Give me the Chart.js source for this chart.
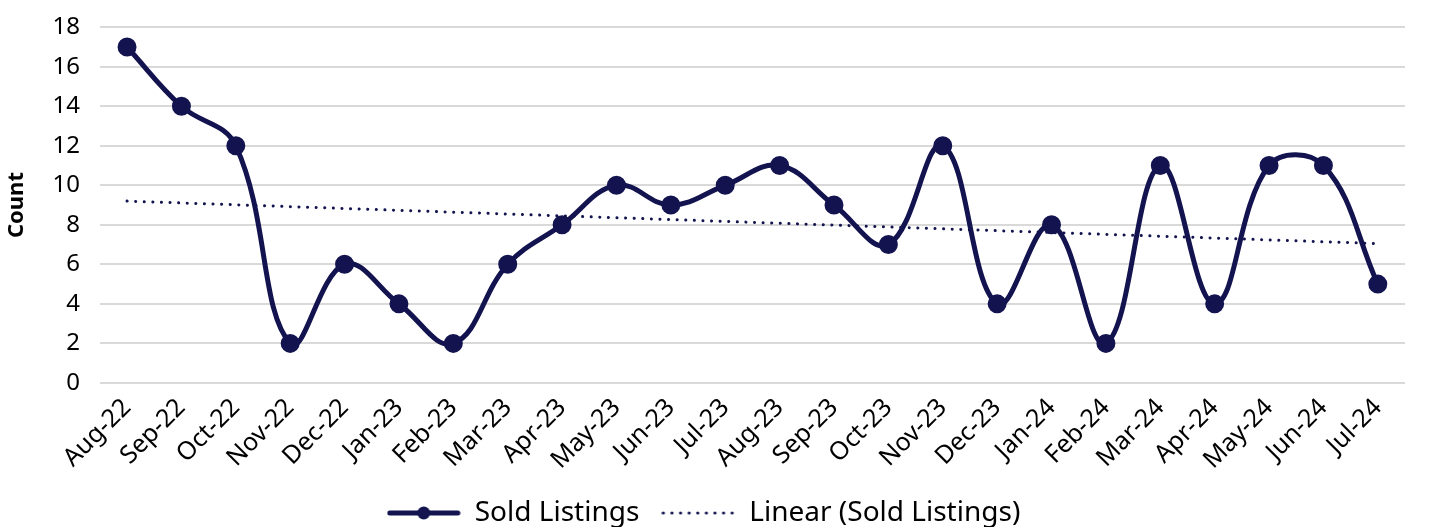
<!DOCTYPE html>
<html>
<head>
<meta charset="utf-8">
<script src="https://cdn.jsdelivr.net/npm/chart.js@4"></script>
<style>
  html, body { margin: 0; padding: 0; background: #fff; overflow: hidden; }
  #wrap { width: 1432px; height: 537px; }
</style>
</head>
<body>
<div id="wrap"><canvas id="chart"></canvas></div>
<script>
// 月ラベルと値
const months = ["Aug-22","Sep-22","Oct-22","Nov-22","Dec-22","Jan-23","Feb-23","Mar-23","Apr-23","May-23","Jun-23","Jul-23",
  "Aug-23","Sep-23","Oct-23","Nov-23","Dec-23","Jan-24","Feb-24","Mar-24","Apr-24","May-24","Jun-24","Jul-24"];
const soldListings = [17,14,12,2,6,4,2,6,8,10,9,10,11,9,7,12,4,8,2,11,4,11,11,5];
// トレンドライン両端
const trendStart = 9.2;
const trendEnd = 7.05;

const navy = "#13134f";
const fontFamily = "'Noto Sans', sans-serif";

// 凡例アイコン
function legendIcon(dotted) {
  const c = document.createElement("canvas");
  c.width = 74; c.height = 16;
  const ctx = c.getContext("2d");
  ctx.strokeStyle = navy;
  ctx.fillStyle = navy;
  if (dotted) {
    for (let x = 2; x < 72; x += 8.6) {
      ctx.beginPath();
      ctx.arc(x, 8, 1.6, 0, Math.PI * 2);
      ctx.fill();
    }
  } else {
    ctx.lineWidth = 5;
    ctx.lineCap = "round";
    ctx.beginPath();
    ctx.moveTo(3, 8); ctx.lineTo(71, 8);
    ctx.stroke();
    ctx.beginPath();
    ctx.arc(37, 8, 6.5, 0, Math.PI * 2);
    ctx.fill();
  }
  return c;
}

const chartData = {
  labels: months,
  datasets: [{
    type: "line",
    label: "Sold Listings",
    data: soldListings,
    borderColor: navy,
    backgroundColor: navy,
    borderWidth: 5,
    tension: 0.4,
    pointRadius: 7,
    pointHoverRadius: 7,
    pointStyle: "circle",
    legendIcon: legendIcon(false)
  }, {
    type: "line",
    label: "Linear (Sold Listings)",
    data: [{ x: months[0], y: trendStart }, { x: months[months.length - 1], y: trendEnd }],
    borderColor: navy,
    backgroundColor: navy,
    borderWidth: 3,
    borderDash: [0.1, 8.5],
    borderCapStyle: "round",
    pointRadius: 0,
    legendIcon: legendIcon(true)
  }]
};

const chartOption = {
  responsive: true,
  maintainAspectRatio: false,
  animation: false,
  layout: { padding: { top: 5, right: 27, left: 2, bottom: 0 } },
  plugins: {
    tooltip: { enabled: false },
    legend: {
      position: "bottom",
      labels: {
        usePointStyle: true,
        pointStyleWidth: 74,
        color: "#000",
        font: { family: fontFamily, size: 28 },
        padding: 22,
        generateLabels: chart => chart.data.datasets.map((ds, i) => ({
          text: ds.label,
          pointStyle: ds.legendIcon,
          datasetIndex: i,
          fontColor: "#000",
          lineWidth: 0,
          hidden: false
        }))
      }
    }
  },
  scales: {
    x: {
      type: "category",
      offset: true,
      grid: { display: false },
      border: { display: false },
      ticks: {
        color: "#000",
        font: { family: fontFamily, size: 25 },
        minRotation: 45,
        maxRotation: 45,
        autoSkip: false,
        padding: 2
      }
    },
    y: {
      min: 0,
      max: 18,
      border: { display: false },
      grid: { color: "#d9d9d9", lineWidth: 2, drawTicks: false },
      ticks: {
        stepSize: 2,
        color: "#000",
        font: { family: fontFamily, size: 24, lineHeight: 0.6 },
        padding: 20
      },
      title: {
        display: true,
        text: "Count",
        color: "#000",
        font: { family: fontFamily, size: 22, weight: "bold" },
        padding: 2
      }
    }
  }
};

new Chart(document.getElementById("chart"), {
  data: chartData,
  options: chartOption
});
</script>
</body>
</html>
